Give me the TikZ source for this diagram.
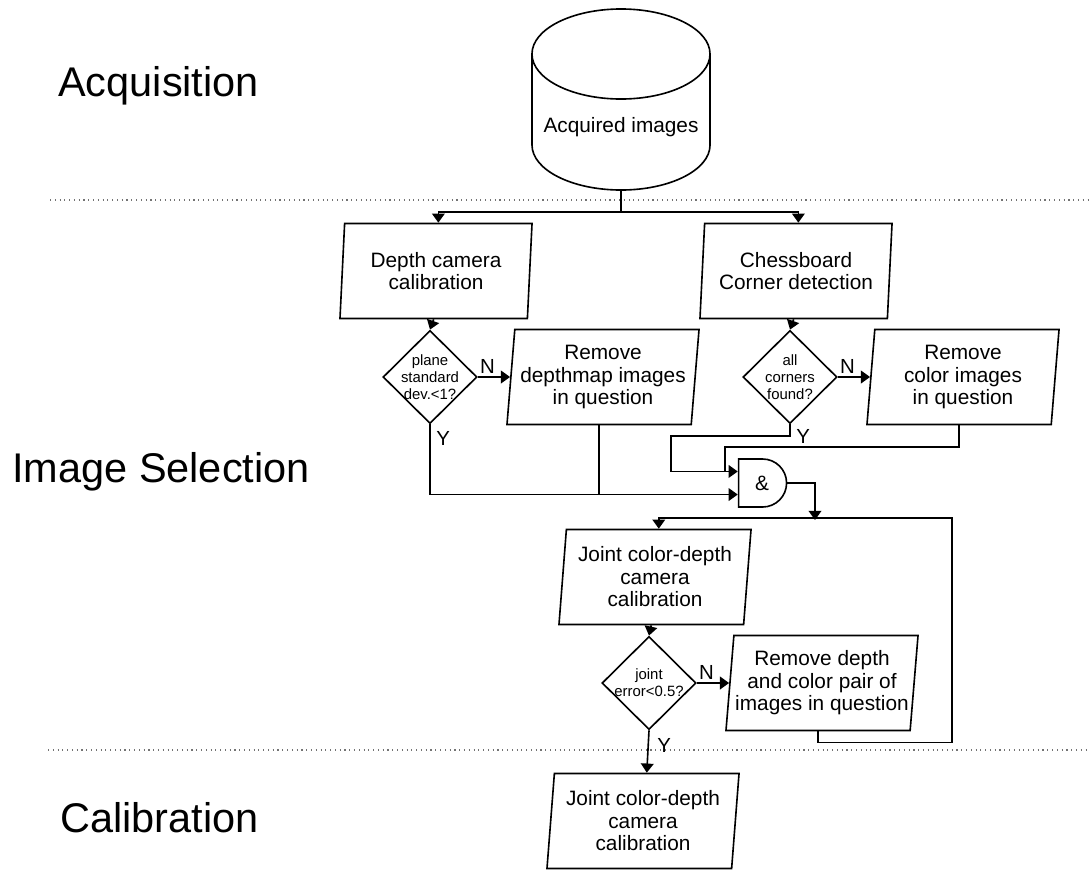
\documentclass[tikz,border=0pt]{standalone}
\usepackage{fontspec}
\setmainfont{Liberation Sans}
\usetikzlibrary{shapes.geometric,shapes.misc,arrows.meta}

\begin{document}
\begin{tikzpicture}[
    x=0.025cm, y=-0.025cm,
    line/.style={line width=1.15pt},
    arrow/.style={line, -{Triangle[length=6.5pt, width=9pt]}},
    iobox/.style={trapezium, trapezium left angle=83, trapezium right angle=97,
      trapezium stretches body, draw, line, minimum width=4.8cm, minimum height=2.375cm,
      inner sep=0pt, align=center, font=\fontsize{14.8}{16}\selectfont},
    decision/.style={diamond, draw, line, minimum width=2.35cm, minimum height=2.33cm, inner sep=0pt},
    dtext/.style={align=center, inner sep=0pt, font=\fontsize{10.6}{12.1}\selectfont},
    andgate/.style={rounded rectangle, rounded rectangle left arc=none, draw, line,
      minimum width=1.2cm, minimum height=1.2cm, inner sep=0pt, font=\fontsize{14.8}{16}\selectfont},
    branch/.style={font=\fontsize{14.5}{16}\selectfont, inner sep=0pt},
    phase/.style={anchor=base west, inner sep=0pt, font=\fontsize{29.5}{34}\selectfont},
    divider/.style={line width=0.8pt, black!55, dash pattern=on 0.8pt off 2.6pt}
]
\useasboundingbox (0,0) rectangle (1089,869);

% Phase labels
\node[phase] (acq) at (58,96)  {Acquisition};
\node[phase] (sel) at (12,482) {Image Selection};
\node[phase] (cal) at (60,832) {Calibration};

\draw[divider] (50,200) -- (1089,200);
\draw[divider] (48,750) -- (1089,750);

% Acquired images
\draw[line] (532,54) -- (532,145) arc[start angle=180, end angle=360, x radius=2.225cm, y radius=1.125cm] -- (710,54);
\draw[line] (621,54) ellipse [x radius=2.225cm, y radius=1.125cm];
\node[font=\fontsize{14.8}{16}\selectfont] (db) at (621,127) {Acquired images};
\coordinate (dbout) at (621,190);

% Image selection
\node[iobox] (dcal) at (436,271) {Depth camera\\calibration};
\node[iobox] (cbd)  at (796,271) {Chessboard\\Corner detection};
\node[decision, label={[dtext]center:plane\\standard\\dev.<1?}] (d1) at (430,377) {};
\node[iobox] (rm1) at (603,377) {Remove\\depthmap images\\in question};
\node[decision, label={[dtext]center:all\\corners\\found?}] (d2) at (790,377) {};
\node[iobox] (rm2) at (963,377) {Remove\\color images\\in question};
\node[andgate] (andg) at (762,483) {\&};
\coordinate (in1) at ([yshift=8.2pt]andg.west);
\coordinate (in2) at ([yshift=-8.2pt]andg.west);

\node[iobox] (jcal) at (655,577) {Joint color-depth\\camera\\calibration};
\node[decision, label={[dtext]center:joint\\error<0.5?}] (d3) at (649,683) {};
\node[iobox] (rm3) at (822,683) {Remove depth\\and color pair of\\images in question};

% Calibration
\node[iobox] (fcal) at (643,821) {Joint color-depth\\camera\\calibration};

% Connectors
\draw[line] (dbout) -- ++(0,22) coordinate (split);
\draw[arrow] (split) -| (dcal.top side);
\draw[arrow] (split) -| (cbd.top side);
\draw[arrow] (dcal.bottom side) -- (d1.north);
\draw[arrow] (cbd.bottom side) -- (d2.north);
\draw[arrow] (d1.east) -- node[branch, above=2pt, pos=0.3] {N} (rm1.left side);
\draw[arrow] (d2.east) -- node[branch, above=2pt, pos=0.3] {N} (rm2.left side);
\draw[arrow] (d1.south) |- node[branch, right=4pt, pos=0.1] {Y} (in2);
\draw[line] (rm1.bottom side) -- (rm1.bottom side |- in2);

\coordinate (j1) at (671,436);
\coordinate (j2) at (725,447);
\draw[arrow] (d2.south) |- node[branch, right=4pt, pos=0.5] {Y} (j1) |- (in1);
\draw[line] (rm2.bottom side) |- (j2) -- (j2 |- in1);

\coordinate (merge) at (815,520);
\coordinate (loop) at (952,518);
\draw[arrow] (andg.east) -| (merge);
\draw[arrow] (rm3.bottom side) -- ++(0,11) -| (loop) -| (jcal.top side);

\draw[arrow] (jcal.bottom side) -- (d3.north);
\draw[arrow] (d3.east) -- node[branch, above=2pt, pos=0.3] {N} (rm3.left side);
\draw[arrow] (d3.south) -- node[branch, right=6pt, pos=0.36] {Y} (fcal.top side);

\end{tikzpicture}
\end{document}
